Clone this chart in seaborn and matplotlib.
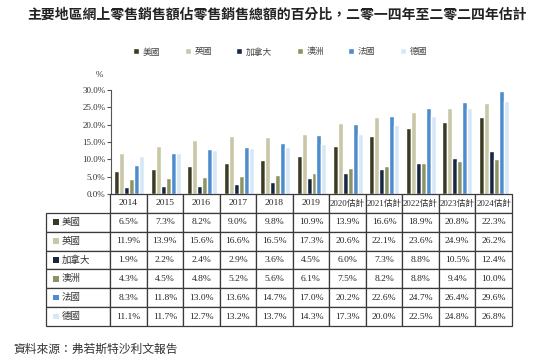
import numpy as np
import pandas as pd
import matplotlib
matplotlib.use('Agg')
import matplotlib.pyplot as plt
import seaborn as sns
from matplotlib.table import Table
from matplotlib.patches import Rectangle

# Chart data
years = ['2014', '2015', '2016', '2017', '2018', '2019',
         '2020估計', '2021估計', '2022估計', '2023估計', '2024估計']
regions = ['美國', '英國', '加拿大', '澳洲', '法國', '德國']

usa = [6.5, 7.3, 8.2, 9.0, 9.8, 10.9, 13.9, 16.6, 18.9, 20.8, 22.3]
uk = [11.9, 13.9, 15.6, 16.6, 16.5, 17.3, 20.6, 22.1, 23.6, 24.9, 26.2]
canada = [1.9, 2.2, 2.4, 2.9, 3.6, 4.5, 6.0, 7.3, 8.8, 10.5, 12.4]
australia = [4.3, 4.5, 4.8, 5.2, 5.6, 6.1, 7.5, 8.2, 8.8, 9.4, 10.0]
france = [8.3, 11.8, 13.0, 13.6, 14.7, 17.0, 20.2, 22.6, 24.7, 26.4, 29.6]
germany = [11.1, 11.7, 12.7, 13.2, 13.7, 14.3, 17.3, 20.0, 22.5, 24.8, 26.8]

colors = ['#3a3b22', '#c9c7a6', '#172641', '#8e9366', '#4d8dcd', '#d6e8f7']

series = [usa, uk, canada, australia, france, germany]
df = pd.DataFrame({
    'year': years * len(regions),
    'region': np.repeat(regions, len(years)),
    'value': np.concatenate(series),
})

sns.set_theme(style='white')
plt.rcParams['font.family'] = ['Liberation Serif', 'Noto Sans CJK TC', 'DejaVu Sans']

W, H = 554, 363
fig = plt.figure(figsize=(W / 100, H / 100), dpi=100)

# bar axes
ax = fig.add_axes([111 / W, 1 - 194 / H, (512 - 111) / W, (194 - 90) / H])
sns.barplot(data=df, x='year', y='value', hue='region', order=years,
            hue_order=regions, palette=colors, width=0.82, gap=0,
            saturation=1, ax=ax)
ax.set_ylim(0, 30)
ax.set_yticks(np.arange(0, 31, 5))
ax.set_yticklabels([f'{v:.1f}%' for v in np.arange(0, 31, 5)],
                   fontsize=6.5, color='#333333')
ax.set_xticks([])
ax.set_xlabel('')
ax.set_ylabel('')
for s in ['top', 'right', 'bottom']:
    ax.spines[s].set_visible(False)
ax.spines['left'].set_color('#555555')
ax.spines['left'].set_linewidth(0.8)
ax.tick_params(axis='y', left=True, length=3, width=0.8, color='#555555', pad=1)
fig.text(99 / W, 1 - 75 / H, '%', fontsize=6.5, ha='center', va='center',
         color='#333333')

sns.move_legend(ax, loc='center', bbox_to_anchor=(280 / W, 1 - 52 / H),
                bbox_transform=fig.transFigure, ncol=6, frameon=False,
                title=None, fontsize=6.3, handlelength=0.7, handleheight=0.7,
                handletextpad=0.4, columnspacing=2.8)
for t in ax.get_legend().get_texts():
    t.set_color('#444444')

# table
tax = fig.add_axes([46 / W, 1 - 326 / H, (512 - 46) / W, (326 - 194) / H])
tax.axis('off')
tb = Table(tax, bbox=[0, 0, 1, 1])
lab_w, col_w, row_h = 64, 36.5, 19
edge = '#3a3a3a'
for j, y in enumerate(years):
    c = tb.add_cell(0, j + 1, col_w, row_h, text=y, loc='center')
    c.set_edgecolor(edge)
    c.set_linewidth(0.9)
    c.get_text().set_fontsize(6.3 if '估' in y else 6.8)
for i, vals in enumerate(series):
    c = tb.add_cell(i + 1, 0, lab_w, row_h, text='', loc='left')
    c.set_edgecolor(edge)
    c.set_linewidth(0.9)
    for j, v in enumerate(vals):
        c = tb.add_cell(i + 1, j + 1, col_w, row_h, text=f'{v:.1f}%', loc='center')
        c.set_edgecolor(edge)
        c.set_linewidth(0.9)
        c.get_text().set_fontsize(6.8)
tb.auto_set_font_size(False)
tax.add_table(tb)

nrows = len(regions) + 1
tot_w = lab_w + col_w * len(years)
for i, (name, col) in enumerate(zip(regions, colors)):
    yc = 1 - (i + 1.5) / nrows
    tax.add_patch(Rectangle((7 / tot_w, yc - 2.7 / 132), 5.5 / tot_w, 5.5 / 132,
                            transform=tax.transAxes, facecolor=col,
                            edgecolor='none', clip_on=False))
    tax.text(16 / tot_w, yc, name, transform=tax.transAxes, fontsize=6.8,
             va='center', ha='left', color='#333333')

fig.text(0.5, 1 - 15 / H, '主要地區網上零售銷售額佔零售銷售總額的百分比，二零一四年至二零二四年估計',
         ha='center', va='center', fontsize=10, fontweight='bold', color='#222222')
fig.text(13 / W, 1 - 350 / H, '資料來源：弗若斯特沙利文報告', ha='left', va='center',
         fontsize=8.5, style='italic', color='#333333')

fig.savefig('out.png', dpi=100)
